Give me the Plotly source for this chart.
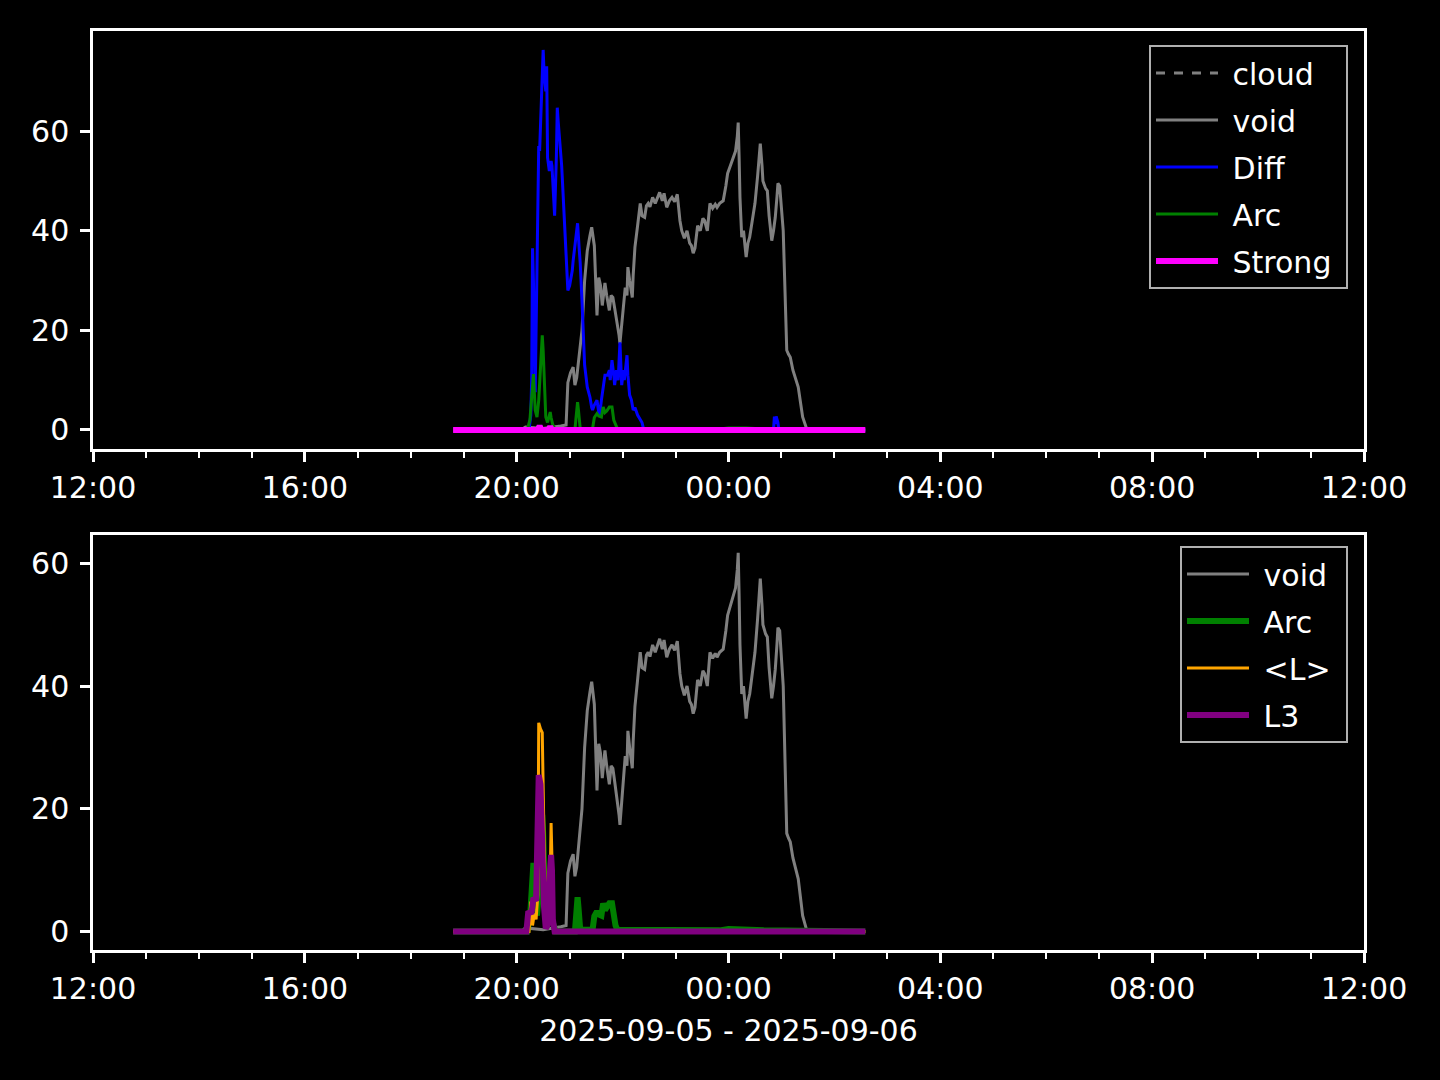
import plotly.graph_objects as go

# ---------------- data ----------------
void_t = ["18:48", "20:05", "20:10", "20:30", "20:50", "20:56", "20:58", "21:01", "21:04", "21:06",
          "21:08", "21:11", "21:14", "21:17", "21:20", "21:23", "21:25", "21:28", "21:31", "21:33",
          "21:35", "21:37", "21:40", "21:42", "21:45", "21:47", "21:49", "21:51", "21:54", "21:56",
          "21:57", "21:59", "22:01", "22:03", "22:05", "22:06", "22:08", "22:11", "22:12", "22:14",
          "22:17", "22:20", "22:22", "22:25", "22:27", "22:29", "22:31", "22:34", "22:37", "22:40",
          "22:42", "22:45", "22:47", "22:50", "22:53", "22:56", "22:59", "23:02", "23:05", "23:07",
          "23:10", "23:13", "23:16", "23:18", "23:20", "23:22", "23:25", "23:28", "23:31", "23:33",
          "23:36", "23:39", "23:42", "23:45", "23:47", "23:50", "23:54", "23:57", "23:59", "00:02",
          "00:05", "00:08", "00:10", "00:11", "00:12", "00:13", "00:15", "00:17", "00:20", "00:22",
          "00:24", "00:27", "00:30", "00:33", "00:36", "00:38", "00:39", "00:42", "00:44", "00:46",
          "00:47", "00:49", "00:51", "00:53", "00:55", "00:56", "00:58", "01:00", "01:02", "01:04",
          "01:06", "01:08", "01:10", "01:13", "01:16", "01:19", "01:22", "01:24", "01:29", "02:35"]
void_v = [0, 0, 0.6, 0.3, 0.8, 1.0, 9.5, 11.5, 12.6, 9.0,
          10.5, 15, 20, 30, 36, 39, 40.7, 37, 23, 30.6,
          29, 25, 29.5, 27, 24, 27, 26.6, 24.5, 21.4, 19,
          17.4, 21, 24, 28.6, 27, 32.7, 30, 26.6, 31, 36.7,
          41, 45.5, 43, 42.7, 45, 45.5, 44.8, 46.7, 45.5, 47,
          47.7, 46, 47.5, 44.7, 46, 46.7, 45.8, 47.3, 42, 40,
          38.5, 40, 37.5, 37, 35.5, 36.5, 41, 40, 42.5, 42,
          40, 45.5, 44.5, 45.3, 44.7, 45.5, 46, 49, 51.5, 53,
          54.7, 56, 59, 61.7, 55, 46.7, 38.7, 40, 34.7, 37.5,
          38.7, 42, 45.5, 51, 57.5, 53, 50, 48.5, 48, 43,
          41.5, 38, 40, 42.7, 47, 49.5, 49, 45, 40, 28,
          16, 15.2, 14.6, 12, 10.5, 8.6, 5, 2.6, 0, 0]

diff_t = ["18:48", "20:14", "20:16", "20:17", "20:18", "20:19", "20:21", "20:22", "20:24", "20:25",
          "20:26", "20:28", "20:29", "20:30", "20:31", "20:33", "20:34", "20:35", "20:37", "20:39",
          "20:40", "20:42", "20:43", "20:45", "20:46", "20:47", "20:49", "20:51", "20:52", "20:55",
          "20:57", "20:58", "21:00", "21:03", "21:04", "21:06", "21:07", "21:09", "21:11", "21:12",
          "21:14", "21:15", "21:17", "21:20", "21:22", "21:23", "21:25", "21:26", "21:28", "21:31",
          "21:33", "21:34", "21:36", "21:38", "21:40", "21:43", "21:45", "21:46", "21:48", "21:50",
          "21:51", "21:53", "21:55", "21:57", "21:58", "21:59", "22:01", "22:02", "22:05", "22:06",
          "22:08", "22:10", "22:12", "22:14", "22:17", "22:20", "22:22", "22:24", "00:51", "00:52",
          "00:53", "00:54", "00:56", "00:57", "02:35"]
diff_v = [0, 0, 3, 10, 36.5, 30, 7.6, 20, 45, 57,
          56, 66, 71, 76.3, 72, 68, 73, 54.7, 52, 54,
          53, 47, 43, 55, 64.7, 62, 58, 53, 49.5, 40,
          33, 28, 29, 32, 34, 36.7, 38, 41.5, 36, 33.5,
          26, 20, 13, 8.6, 7.5, 6.6, 4.5, 4, 5, 6,
          3.5, 3, 6, 8.6, 11, 11, 12, 10, 14, 11,
          9, 12, 10, 17.6, 13, 9, 12, 10, 15, 11,
          7, 6, 4, 4.5, 3, 2, 1.5, 0, 0, 2.7,
          1.2, 2.7, 1.5, 0, 0]

arc_t = ["18:48", "20:12", "20:15", "20:17", "20:19", "20:21", "20:23", "20:25", "20:27", "20:29",
         "20:30", "20:31", "20:33", "20:35", "20:38", "20:39", "20:41", "20:44", "21:06", "21:07",
         "21:09", "21:10", "21:12", "21:26", "21:28", "21:31", "21:33", "21:36", "21:38", "21:40",
         "21:42", "21:45", "21:48", "21:50", "21:52", "21:54", "22:30", "23:50", "00:00", "00:20",
         "00:40", "02:35"]
arc_v = [0, 0, 2, 6, 11.2, 4, 2.6, 6, 14, 19,
         16, 12, 2.6, 1.5, 3.6, 2.5, 1, 0, 0, 2,
         5.6, 4, 0.3, 0.3, 2.5, 3.3, 2.8, 2.6, 4.6, 3.5,
         3.8, 4.6, 4.6, 2, 1, 0.3, 0.2, 0.2, 0.4, 0.4,
         0.2, 0]

strong_t = ["18:48", "20:24", "20:26", "20:28", "20:36", "20:38", "20:40", "02:35"]
strong_v = [0, 0, 0.8, 0, 0, 0.7, 0, 0]

cloud_t = ["18:48", "02:35"]
cloud_v = [0, 0]

meanl_t = ["18:48", "20:14", "20:16", "20:18", "20:20", "20:22", "20:24", "20:25", "20:27", "20:29",
           "20:31", "20:33", "20:36", "20:38", "20:39", "20:40", "20:42", "02:35"]
meanl_v = [0, 0, 4.9, 1, 3, 2, 6, 34, 33, 32.4,
           15, 3, 2, 8, 17.7, 12, 0, 0]

l3_t = ["18:48", "20:11", "20:13", "20:17", "20:19", "20:22", "20:23", "20:25", "20:27", "20:29",
        "20:31", "20:33", "20:35", "20:37", "20:39", "20:40", "20:41", "20:43", "02:35"]
l3_v = [0, 0, 3, 3.2, 5.5, 5, 12, 25.5, 24, 12,
        4, 0.5, 1, 8, 12.5, 10, 2, 0, 0]

x_ticks = ["12:00", "16:00", "20:00", "00:00", "04:00", "08:00", "12:00"]
x_label = "2025-09-05 - 2025-09-06"
y_ticks = [0, 20, 40, 60]


def ts(hhmm, end=False):
    h = int(hhmm[:2])
    day = "2025-09-05" if (h >= 12 and not end) else "2025-09-06"
    return f"{day} {hhmm}:00"


def tlist(lst):
    return [ts(t) for t in lst]


tick_vals = [ts(t) for t in x_ticks[:-1]] + [ts(x_ticks[-1], end=True)]

FONT = "DejaVu Sans"
GAP = "\u00a0"
TAIL = "\u00a0"
fig = go.Figure()

# top panel
top = [
    ("cloud", cloud_t, cloud_v, "#808080", 3, "dash"),
    ("void", void_t, void_v, "#808080", 3, "solid"),
    ("Diff", diff_t, diff_v, "#0000ff", 3, "solid"),
    ("Arc", arc_t, arc_v, "#008000", 3, "solid"),
    ("Strong", strong_t, strong_v, "#ff00ff", 6, "solid"),
]
for i, (name, t, v, c, w, d) in enumerate(top):
    fig.add_trace(go.Scatter(x=tlist(t), y=v, name=GAP + name + TAIL, mode="lines",
                             line=dict(color=c, width=w, dash=d),
                             xaxis="x", yaxis="y", legend="legend",
                             legendgroup=f"a{i}"))

bottom = [
    ("void", void_t, void_v, "#808080", 3),
    ("Arc", arc_t, arc_v, "#008000", 6),
    ("<L>", meanl_t, meanl_v, "#ffa500", 3),
    ("L3", l3_t, l3_v, "#800080", 6),
]
for i, (name, t, v, c, w) in enumerate(bottom):
    fig.add_trace(go.Scatter(x=tlist(t), y=v, name=GAP + name + TAIL, mode="lines",
                             line=dict(color=c, width=w),
                             xaxis="x2", yaxis="y2", legend="legend2",
                             legendgroup=f"b{i}"))

xr = [ts("12:00"), ts("12:00", end=True)]
ax_common = dict(showline=True, linecolor="white", linewidth=2.5, mirror=True,
                 ticks="outside", ticklen=10, tickwidth=2.5, tickcolor="white",
                 showgrid=False, zeroline=False, automargin=False,
                 tickfont=dict(family=FONT, size=30, color="white"))
xax = dict(ax_common, type="date", range=xr, tickvals=tick_vals, ticktext=x_ticks,
           minor=dict(dtick=3600000, ticklen=6, tickwidth=2, tickcolor="white", ticks="outside"),
           ticklabelstandoff=0)
yax = dict(ax_common, tickvals=y_ticks, ticklabelstandoff=5)

legend_common = dict(bgcolor="black", bordercolor="#b0b0b0", borderwidth=2,
                     font=dict(family=FONT, size=30, color="white"),
                     xanchor="right", yanchor="top", itemwidth=62,
                     tracegroupgap=5, traceorder="grouped")

fig.update_layout(
    width=1440, height=1080, autosize=False,
    paper_bgcolor="black", plot_bgcolor="black",
    margin=dict(l=0, r=0, t=0, b=0),
    showlegend=True,
    xaxis=dict(xax, domain=[93 / 1440, 1364 / 1440], anchor="y"),
    yaxis=dict(yax, domain=[1 - 449 / 1080, 1 - 31 / 1080], range=[-3.82, 80.1], anchor="x"),
    xaxis2=dict(xax, domain=[93 / 1440, 1364 / 1440], anchor="y2",
                title=dict(text=x_label, font=dict(family=FONT, size=30, color="white"), standoff=16)),
    yaxis2=dict(yax, domain=[1 - 950 / 1080, 1 - 535 / 1080], range=[-3.0, 64.6], anchor="x2"),
    legend=dict(legend_common, x=1348 / 1440, y=1 - 45 / 1080),
    legend2=dict(legend_common, x=1348 / 1440, y=1 - 546 / 1080),
)

fig.write_html(
    "out.html",
    config={"displayModeBar": False},
    post_script="document.body.style.margin='0px';document.body.style.padding='0px';"
                "document.body.style.overflow='hidden';document.body.style.background='black';",
)
